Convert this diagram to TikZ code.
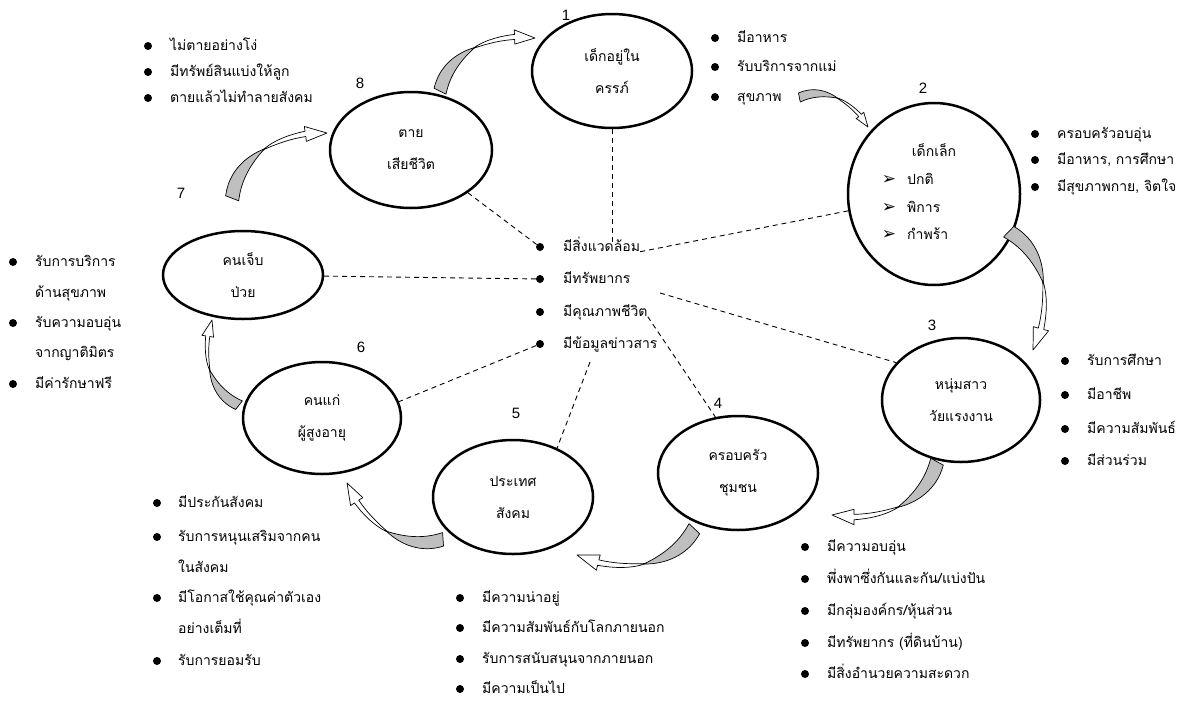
\documentclass[tikz,border=0pt]{standalone}
\usepackage{fontspec}
\newfontfamily\thaifont[Script=Thai]{Loma}
\newfontfamily\numfont{Liberation Sans}
\newfontfamily\symfont{DejaVu Sans}
\usetikzlibrary{shapes.geometric,calc}

\tikzset{
  cyc/.style={ellipse, draw, line width=2.5pt, inner sep=0pt, align=center,
    font=\thaifont\fontsize{14}{32}\selectfont},
  txt/.style={anchor=west, inner sep=0pt, text height=9pt, text depth=0pt,
    font=\thaifont\fontsize{14}{16}\selectfont},
  ctxt/.style={txt, anchor=center},
  dot/.style={circle, fill=black, inner sep=0pt, minimum size=8pt},
  num/.style={font=\numfont\fontsize{15}{17}\selectfont, inner sep=0pt},
  sym/.style={font=\symfont\fontsize{17}{19}\selectfont, inner sep=0pt},
  link/.style={dash pattern=on 5pt off 4pt, line width=0.9pt},
  arrgray/.style={fill=black!25, draw=black, line width=0.7pt, line join=round},
  arrwhite/.style={fill=white, draw=black, line width=0.7pt, line join=round},
}

\newcommand\cyclearrow[2]{%
  \pgfmathanglebetweenpoints{\pgfpointanchor{#1}{center}}{\pgfpointanchor{#2}{center}}%
  \edef\cyang{\pgfmathresult}%
  \pgfpointdiff{\pgfpointanchor{#1}{center}}{\pgfpointanchor{#2}{center}}%
  \pgfgetlastxy{\cydx}{\cydy}%
  \pgfmathsetmacro\cylen{veclen(\cydx,\cydy)}%
  \begin{scope}[shift={(#1)}, rotate=\cyang, x={(\cylen pt,0pt)}, y={(0pt,\cylen pt)}]
    \filldraw[arrgray] (0.03,-0.06) -- (-0.04,0.04)
      .. controls (0.1,0.2) and (0.3,0.23) .. (0.47,0.19)
      .. controls (0.3,0.15) and (0.15,0.08) .. (0.03,-0.06) -- cycle;
    \filldraw[arrwhite] (0.45,0.19)
      .. controls (0.6,0.21) and (0.75,0.16) .. (0.85,0.12)
      -- (0.868,0.158) -- (1,0) -- (0.81,0.04) -- (0.83,0.078)
      .. controls (0.72,0.13) and (0.6,0.165) .. (0.45,0.19) -- cycle;
  \end{scope}}

\begin{document}
\begin{tikzpicture}[x=1pt, y=-1pt]
\useasboundingbox (0,0) rectangle (1190,704);
\fill[white] (0,0) rectangle (1190,704);

% ---- stage ellipses
\node[cyc, minimum width=160pt, minimum height=114pt] (e1) at (612,71) {เด็กอยู่ใน\\ครรภ์};
\node[cyc, minimum width=172pt, minimum height=182pt] (e2) at (934,194) {};
\node[cyc, minimum width=158pt, minimum height=124pt] (e3) at (961,400) {หนุ่มสาว\\วัยแรงงาน};
\node[cyc, minimum width=160pt, minimum height=114pt] (e4) at (738,473) {ครอบครัว\\ชุมชน};
\node[cyc, minimum width=160pt, minimum height=114pt] (e5) at (513,497) {ประเทศ\\สังคม};
\node[cyc, minimum width=158pt, minimum height=112pt] (e6) at (322,418) {คนแก่\\ผู้สูงอายุ};
\node[cyc, minimum width=160pt, minimum height=88pt] (e7) at (243,275) {คนเจ็บ\\ป่วย};
\node[cyc, minimum width=162pt, minimum height=116pt] (e8) at (411,150) {ตาย\\เสียชีวิต};

% content of ellipse 2
\node[ctxt] (k0) at (934,152) {เด็กเล็ก};
\node[sym] (s1) at (889,180) {➢};
\node[txt] (k1) at (907,180) {ปกติ};
\node[sym] (s2) at (889,208) {➢};
\node[txt] (k2) at (907,208) {พิการ};
\node[sym] (s3) at (889,235) {➢};
\node[txt] (k3) at (907,235) {กำพร้า};

% ---- numbers
\node[num] (n1) at (566,15) {1};
\node[num] (n2) at (923,88) {2};
\node[num] (n3) at (932,325) {3};
\node[num] (n4) at (718,403) {4};
\node[num] (n5) at (516,413) {5};
\node[num] (n6) at (361,347) {6};
\node[num] (n7) at (181,193) {7};
\node[num] (n8) at (360,83) {8};

% ---- centre list
\node[dot] (b1) at (540,247) {};
\node[txt] (c1) at (563,247) {มีสิ่งแวดล้อม};
\node[dot] (b2) at (540,279) {};
\node[txt] (c2) at (563,279) {มีทรัพยากร};
\node[dot] (b3) at (540,312) {};
\node[txt] (c3) at (563,312) {มีคุณภาพชีวิต};
\node[dot] (b4) at (540,344) {};
\node[txt] (c4) at (563,344) {มีข้อมูลข่าวสาร};

% ---- list 1
\node[dot] (p11) at (715,38) {};  \node[txt] (t11) at (737,38) {มีอาหาร};
\node[dot] (p12) at (715,67) {};  \node[txt] (t12) at (737,67) {รับบริการจากแม่};
\node[dot] (p13) at (715,97) {};  \node[txt] (t13) at (737,97) {สุขภาพ};

% ---- list 2
\node[dot] (p21) at (1035,134) {}; \node[txt] (t21) at (1057,134) {ครอบครัวอบอุ่น};
\node[dot] (p22) at (1035,160) {}; \node[txt] (t22) at (1057,160) {มีอาหาร, การศึกษา};
\node[dot] (p23) at (1035,187) {}; \node[txt] (t23) at (1057,187) {มีสุขภาพกาย, จิตใจ};

% ---- list 3
\node[dot] (p31) at (1065,361) {}; \node[txt] (t31) at (1087,361) {รับการศึกษา};
\node[dot] (p32) at (1065,395) {}; \node[txt] (t32) at (1087,395) {มีอาชีพ};
\node[dot] (p33) at (1065,429) {}; \node[txt] (t33) at (1087,429) {มีความสัมพันธ์};
\node[dot] (p34) at (1065,461) {}; \node[txt] (t34) at (1087,461) {มีส่วนร่วม};

% ---- list 4
\node[dot] (p41) at (805,547) {}; \node[txt] (t41) at (827,547) {มีความอบอุ่น};
\node[dot] (p42) at (805,579) {}; \node[txt] (t42) at (827,579) {พึ่งพาซึ่งกันและกัน/แบ่งปัน};
\node[dot] (p43) at (805,611) {}; \node[txt] (t43) at (827,611) {มีกลุ่มองค์กร/หุ้นส่วน};
\node[dot] (p44) at (805,643) {}; \node[txt] (t44) at (827,643) {มีทรัพยากร (ที่ดินบ้าน)};
\node[dot] (p45) at (805,674) {}; \node[txt] (t45) at (827,674) {มีสิ่งอำนวยความสะดวก};

% ---- list 5
\node[dot] (p51) at (460,598) {}; \node[txt] (t51) at (482,598) {มีความน่าอยู่};
\node[dot] (p52) at (460,628) {}; \node[txt] (t52) at (482,628) {มีความสัมพันธ์กับโลกภายนอก};
\node[dot] (p53) at (460,659) {}; \node[txt] (t53) at (482,659) {รับการสนับสนุนจากภายนอก};
\node[dot] (p54) at (460,689) {}; \node[txt] (t54) at (482,689) {มีความเป็นไป};

% ---- list 6
\node[dot] (p61) at (157,503) {}; \node[txt] (t61) at (178,503) {มีประกันสังคม};
\node[dot] (p62) at (157,537) {}; \node[txt] (t62) at (178,537) {รับการหนุนเสริมจากคน};
\node[txt] (t62b) at (178,568) {ในสังคม};
\node[dot] (p63) at (157,598) {}; \node[txt] (t63) at (178,598) {มีโอกาสใช้คุณค่าตัวเอง};
\node[txt] (t63b) at (178,629) {อย่างเต็มที่};
\node[dot] (p64) at (157,661) {}; \node[txt] (t64) at (178,661) {รับการยอมรับ};

% ---- list 7
\node[dot] (p71) at (13,262) {}; \node[txt] (t71) at (35,262) {รับการบริการ};
\node[txt] (t71b) at (35,293) {ด้านสุขภาพ};
\node[dot] (p72) at (13,323) {}; \node[txt] (t72) at (35,323) {รับความอบอุ่น};
\node[txt] (t72b) at (35,353) {จากญาติมิตร};
\node[dot] (p73) at (13,384) {}; \node[txt] (t73) at (35,384) {มีค่ารักษาฟรี};

% ---- list 8
\node[dot] (p81) at (148,46) {}; \node[txt] (t81) at (170,46) {ไม่ตายอย่างโง่};
\node[dot] (p82) at (148,72) {}; \node[txt] (t82) at (170,72) {มีทรัพย์สินแบ่งให้ลูก};
\node[dot] (p83) at (148,98) {}; \node[txt] (t83) at (170,98) {ตายแล้วไม่ทำลายสังคม};

% ---- dashed links to the centre
\coordinate (c2r) at (660,293);
\coordinate (c4b) at (590,362);
\draw[link] (e1.south) -- (e1.south |- c1.north);
\draw[link] (e8) -- (b1);
\draw[link] (e2) -- (c1.south east);
\draw[link] (e7) -- (b2);
\draw[link] (c2r) -- (e3.150);
\draw[link] (c3.south east) -- (e4.112);
\draw[link] (b4) -- (e6.12);
\draw[link] (c4b) -- (e5.48);

% ---- cycle arrows
\coordinate (a81s) at (440,90);  \coordinate (a81e) at (535,38);
\coordinate (a78s) at (232,197); \coordinate (a78e) at (327,133);
\coordinate (a12s) at (800,97);  \coordinate (a12e) at (868,127);
\coordinate (a23s) at (1010,232); \coordinate (a23e) at (1033,350);
\coordinate (a34s) at (937,463); \coordinate (a34e) at (832,515);
\coordinate (a45s) at (694,530); \coordinate (a45e) at (577,555);
\coordinate (a56s) at (442,540); \coordinate (a56e) at (347,483);
\coordinate (a67s) at (238,405); \coordinate (a67e) at (212,320);
\cyclearrow{a81s}{a81e}
\cyclearrow{a78s}{a78e}
\cyclearrow{a12s}{a12e}
\cyclearrow{a23s}{a23e}
\cyclearrow{a34s}{a34e}
\cyclearrow{a45s}{a45e}
\cyclearrow{a56s}{a56e}
\cyclearrow{a67s}{a67e}
\end{tikzpicture}
\end{document}
